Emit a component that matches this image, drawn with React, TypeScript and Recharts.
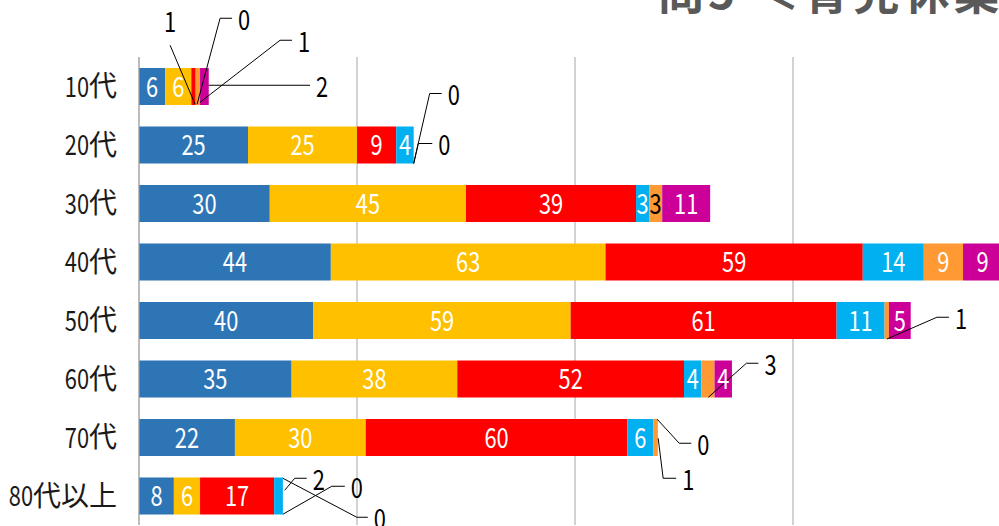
import React from 'react';
import { BarChart, Bar, XAxis, YAxis, CartesianGrid } from 'recharts';

// 年代別 回答数（積み上げ横棒）
const ages = ['10代', '20代', '30代', '40代', '50代', '60代', '70代', '80代以上'];
const s1 = [6, 25, 30, 44, 40, 35, 22, 8];
const s2 = [6, 25, 45, 63, 59, 38, 30, 6];
const s3 = [1, 9, 39, 59, 61, 52, 60, 17];
const s4 = [0, 4, 3, 14, 11, 4, 6, 2];
const s5 = [1, 0, 3, 9, 1, 3, 1, 0];
const s6 = [2, 0, 11, 9, 5, 4, 0, 0];
const xTicks = [0, 50, 100, 150, 200];
const titleText = '問5 ＜育児休業';

const series = [s1, s2, s3, s4, s5, s6];
const seriesKeys = ['s1', 's2', 's3', 's4', 's5', 's6'];
const seriesColors = ['#2E75B6', '#FFC000', '#FF0000', '#00B0F0', '#FF9933', '#CC0099'];

const data = ages.map((age, i) => {
  const row: Record<string, string | number> = { age };
  seriesKeys.forEach((k, j) => (row[k] = series[j][i]));
  return row;
});

const FONT = "'Noto Sans CJK JP', sans-serif";
const FS = 28;
const NARROW = 0.78;
const LIFT = -2; // central baseline sits a little low for CJK fonts
const GRID = '#a6a6a6';

// callouts for thin segments: anchor / elbow offsets from segment centre and bar centre
type Callout = { ax: number; ay: number; ex: number; ey: number; tail: number; above?: boolean };
const callouts: Record<string, Callout> = {
  '0-2': { ax: 1.6, ay: 17.75, ex: -23.4, ey: -41.25, tail: 0, above: true },
  '0-3': { ax: 1.4, ay: 17.75, ex: 24.4, ey: -68.25, tail: 12 },
  '0-4': { ax: 2.2, ay: 15.75, ex: 82.2, ey: -46.25, tail: 12 },
  '0-5': { ax: 4.3, ay: -1.25, ex: 93.6, ey: -1.25, tail: 12 },
  '1-4': { ax: 0, ay: 18.5, ex: 16, ey: -51.5, tail: 12 },
  '1-5': { ax: 0, ay: 18.5, ex: 4.6, ey: -1.5, tail: 14 },
  '4-4': { ax: 0.2, ay: 18.5, ex: 50.2, ey: -3.25, tail: 12 },
  '5-4': { ax: 0.4, ay: 18.25, ex: 38.4, ey: -15.75, tail: 12 },
  '6-5': { ax: -0.6, ay: -18.25, ex: 21.4, ey: 5.75, tail: 12 },
  '6-4': { ax: 2.5, ay: 0.75, ex: 7.5, ey: 40.75, tail: 13 },
  '7-3': { ax: 6.2, ay: -5.75, ex: 16.2, ey: -17.75, tail: 12 },
  '7-4': { ax: 0, ay: 18.25, ex: 48.9, ey: -9.75, tail: 13 },
  '7-5': { ax: 0, ay: -17.75, ex: 73.9, ey: 21.25, tail: 11 },
};
const darkLabels = new Set(['2-4']);

// condensed digits, like the original UI font
const Narrow = ({ x, y, anchor, fill, children }: any) => (
  <text transform={`translate(${x} ${y + LIFT}) scale(${NARROW} 1)`} textAnchor={anchor}
    dominantBaseline="central" fontFamily={FONT} fontSize={FS} fill={fill}>
    {children}
  </text>
);

const AgeTick = (props: any) => {
  const label: string = props.payload.value;
  const digits = label.match(/^\d+/)?.[0] ?? '';
  const rest = label.slice(digits.length);
  return (
    <g>
      <text x={props.x} y={props.y + LIFT} textAnchor="end" dominantBaseline="central"
        fontFamily={FONT} fontSize={FS} fill="#1a1a1a">{rest}</text>
      <Narrow x={props.x - rest.length * FS} y={props.y} anchor="end" fill="#1a1a1a">{digits}</Narrow>
    </g>
  );
};

// draws every label of one row, using the geometry of the first segment
const RowLabels = (props: any) => {
  const { x, y, width, height, index } = props;
  const k = width / s1[index];
  const cy = y + height / 2;
  const out: React.ReactNode[] = [];
  let acc = 0;
  series.forEach((arr, j) => {
    const v = arr[index];
    const start = x + acc * k;
    acc += v;
    const end = x + acc * k;
    const xc = (start + end) / 2;
    const key = `${index}-${j}`;
    const c = callouts[key];
    if (c) {
      const ax = xc + c.ax, ay = cy + c.ay, ex = xc + c.ex, ey = cy + c.ey;
      out.push(
        <g key={key}>
          <polyline points={`${ax},${ay} ${ex},${ey} ${ex + c.tail},${ey}`} fill="none" stroke="#000" strokeWidth={1} />
          {c.above ? (
            <Narrow x={ex} y={ey - 24} anchor="middle" fill="#000">{v}</Narrow>
          ) : (
            <Narrow x={ex + c.tail + 6} y={ey + 1} anchor="start" fill="#000">{v}</Narrow>
          )}
        </g>
      );
    } else if (v > 0) {
      out.push(
        <Narrow key={key} x={xc} y={cy} anchor="middle" fill={darkLabels.has(key) ? '#000' : '#fff'}>{v}</Narrow>
      );
    }
  });
  return <g>{out}</g>;
};

const chartProps = {
  layout: 'vertical' as const,
  width: 1020,
  height: 526,
  data,
  margin: { top: 57, right: 9, bottom: 1, left: 0 },
  barSize: 37,
};

export default function App() {
  return (
    <div style={{ position: 'absolute', left: 0, top: 0, width: 999, height: 526, overflow: 'hidden', background: '#fff' }}>
      <div style={{ position: 'absolute', left: 0, top: 0 }}>
        <BarChart {...chartProps}>
          <CartesianGrid horizontal={false} stroke={GRID} />
          <XAxis type="number" domain={[0, 200]} ticks={xTicks} hide />
          <YAxis type="category" dataKey="age" width={139} tickSize={0} tickMargin={22}
            tickLine={false} axisLine={{ stroke: GRID }} tick={<AgeTick />} />
          {seriesKeys.map((k, j) => (
            <Bar key={k} dataKey={k} stackId="a" fill={seriesColors[j]} isAnimationActive={false} />
          ))}
        </BarChart>
      </div>
      <div style={{ position: 'absolute', left: 0, top: 0 }}>
        <BarChart {...chartProps}>
          <XAxis type="number" domain={[0, 200]} ticks={xTicks} hide />
          <YAxis type="category" dataKey="age" width={139} tick={false} tickLine={false} axisLine={false} />
          <Bar dataKey="s1" fill="transparent" isAnimationActive={false} shape={(p: any) => <RowLabels {...p} />} />
        </BarChart>
      </div>
      <svg width={999} height={60} style={{ position: 'absolute', left: 0, top: 0 }}>
        <text x={658} y={9} fontFamily="'Noto Sans CJK JP', sans-serif" fontSize={46} fontWeight="bold"
          letterSpacing={4} fill="#595959">{titleText}</text>
      </svg>
    </div>
  );
}
